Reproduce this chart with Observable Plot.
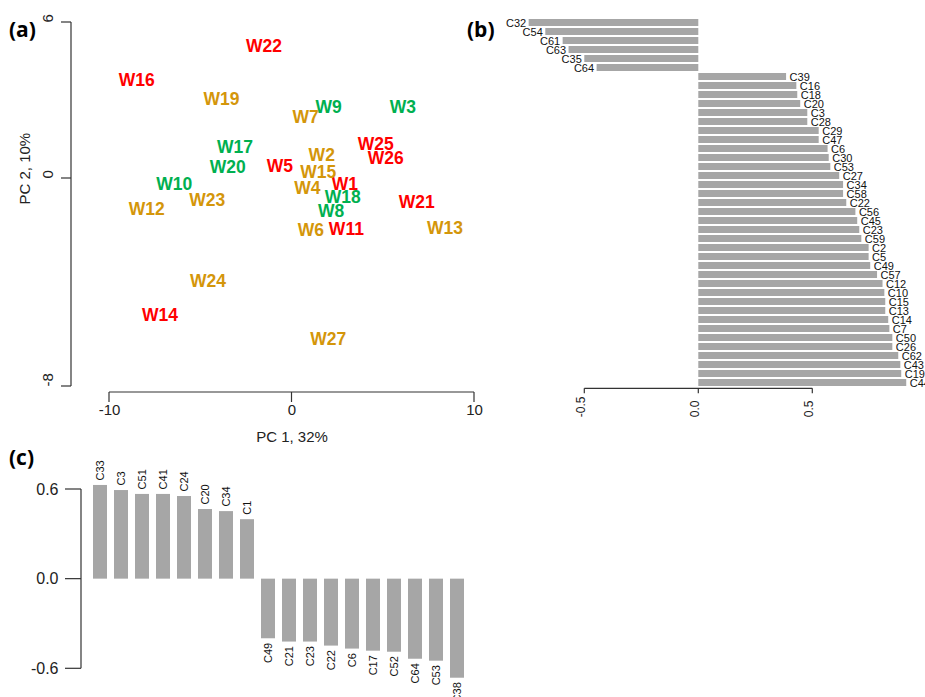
<!DOCTYPE html>
<html><head><meta charset="utf-8">
<script src="https://cdn.jsdelivr.net/npm/d3@7"></script>
<script src="https://cdn.jsdelivr.net/npm/@observablehq/plot@0.6"></script>
<style>
html,body{margin:0;padding:0;background:#fff;overflow:hidden}
#wrap{position:relative;width:925px;height:697px;overflow:hidden;font-family:"Liberation Sans",Arial,sans-serif}
#wrap svg{position:absolute;max-width:none;background:transparent;overflow:visible}
.tag{position:absolute;font-family:"Open Sans",sans-serif;font-weight:700;font-size:21px;line-height:1;color:#000}
</style></head><body>
<div id="wrap">
  <div class="tag" style="left:9px;top:19px">(a)</div>
  <div class="tag" style="left:467px;top:19px">(b)</div>
  <div class="tag" style="left:9px;top:447px">(c)</div>
</div>
<script>
// ---------- Panel (a): PCA scores ----------
const sampleNames = ["W1","W2","W3","W4","W5","W6","W7","W8","W9","W10","W11","W12","W13","W14","W15","W16","W17","W18","W19","W20","W21","W22","W23","W24","W25","W26","W27"];
const pc1 = [2.9,1.63,6.08,0.84,-0.66,1.04,0.74,2.14,2.01,-6.45,2.98,-7.96,8.38,-7.23,1.44,-8.51,-3.12,2.78,-3.86,-3.52,6.83,-1.53,-4.64,-4.6,4.59,5.13,1.99];
const pc2 = [-0.23,0.88,2.73,-0.37,0.47,-2.0,2.36,-1.26,2.74,-0.24,-1.97,-1.17,-1.91,-5.27,0.22,3.77,1.2,-0.72,3.04,0.41,-0.91,5.08,-0.85,-3.95,1.33,0.76,-6.17];
const sampleGroup = ["r","g","n","g","r","g","g","n","n","n","r","g","g","r","g","r","n","n","g","n","r","r","g","g","r","r","g"];
const groupKeys = ["r","n","g"];
const groupColors = ["#ff0000","#00b050","#d4960a"];
const xTicksA = [-10,0,10];
const yTicksA = [6,0,-8];
const xTitleA = "PC 1, 32%";
const yTitleA = "PC 2, 10%";

// ---------- Panel (b): loadings, horizontal ----------
const bNames = ["C32","C54","C61","C63","C35","C64","C39","C16","C18","C20","C3","C28","C29","C47","C6","C30","C53","C27","C34","C58","C22","C56","C45","C23","C59","C2","C5","C49","C57","C12","C10","C15","C13","C14","C7","C50","C26","C62","C43","C19","C44"];
const bValues = [-0.744,-0.671,-0.595,-0.569,-0.5,-0.446,0.385,0.43,0.434,0.447,0.478,0.478,0.528,0.528,0.567,0.572,0.579,0.618,0.635,0.635,0.649,0.689,0.697,0.706,0.715,0.747,0.747,0.754,0.784,0.808,0.816,0.82,0.82,0.833,0.838,0.851,0.851,0.877,0.886,0.89,0.912];
const bTicks = [-0.5,0,0.5];

// ---------- Panel (c): loadings, vertical ----------
const cNames = ["C33","C3","C51","C41","C24","C20","C34","C1","C49","C21","C23","C22","C6","C17","C52","C64","C53","C38"];
const cValues = [0.627,0.593,0.567,0.567,0.553,0.466,0.452,0.398,-0.399,-0.421,-0.421,-0.448,-0.468,-0.482,-0.489,-0.536,-0.549,-0.663];
const cTicks = [0.6,0,-0.6];

const BAR = "#a6a6a6";
const AXIS = "#333";
const FONT = "'Liberation Sans', Arial, sans-serif";

// R-style axis: line spanning first..last tick, outward ticks, drawn with Plot's scales
function rAxis(dim, ticks, len) {
  return (index, scales, values, dims) => {
    const s = scales[dim];
    const g = d3.create("svg:g").attr("stroke", AXIS).attr("fill", "none").attr("stroke-width", 1.2);
    const p = ticks.map(t => s(t));
    if (dim === "x") {
      const y0 = dims.height - dims.marginBottom;
      g.append("line").attr("x1", d3.min(p)).attr("x2", d3.max(p)).attr("y1", y0).attr("y2", y0);
      for (const x of p) g.append("line").attr("x1", x).attr("x2", x).attr("y1", y0).attr("y2", y0 + len);
    } else {
      const x0 = dims.marginLeft;
      g.append("line").attr("y1", d3.min(p)).attr("y2", d3.max(p)).attr("x1", x0).attr("x2", x0);
      for (const y of p) g.append("line").attr("y1", y).attr("y2", y).attr("x1", x0).attr("x2", x0 - len);
    }
    return g.node();
  };
}
const fmt1 = d => d.toFixed(1);
const wrap = document.getElementById("wrap");
function place(svg, left, top) { svg.style.left = left + "px"; svg.style.top = top + "px"; wrap.appendChild(svg); }

// Panel (a)
const samples = sampleNames.map((n, i) => ({name: n, x: pc1[i], y: pc2[i], group: sampleGroup[i]}));
const plotA = Plot.plot({
  width: 480, height: 460,
  marginLeft: 71, marginBottom: 68, marginTop: 0, marginRight: 0,
  x: {domain: d3.extent(xTicksA), range: [109, 474], axis: null},
  y: {domain: d3.extent(yTicksA), range: [386, 22], axis: null},
  color: {domain: groupKeys, range: groupColors},
  style: {fontFamily: FONT, background: "transparent", overflow: "visible"},
  marks: [
    rAxis("x", xTicksA, 10),
    rAxis("y", yTicksA, 10),
    Plot.text(xTicksA, {x: d => d, frameAnchor: "bottom", dy: 22, text: d => String(d), fontSize: 15, fill: "#222"}),
    Plot.text(yTicksA, {y: d => d, frameAnchor: "left", dx: -23, rotate: -90, text: d => String(d), fontSize: 15, fill: "#222"}),
    Plot.text([xTitleA], {x: () => d3.mean(d3.extent(xTicksA)), frameAnchor: "bottom", dy: 49, text: d => d, fontSize: 15, fill: "#222"}),
    Plot.text([yTitleA], {y: () => d3.mean(d3.extent(yTicksA)), frameAnchor: "left", dx: -46, rotate: -90, text: d => d, fontSize: 15, fill: "#222"}),
    Plot.text(samples, {x: "x", y: "y", text: "name", fill: "group", fontWeight: "bold", fontSize: 17.5})
  ]
});
place(plotA, 0, 0);

// Panel (b)
const bData = bNames.map((n, i) => ({name: n, v: bValues[i]}));
const plotB = Plot.plot({
  width: 445, height: 430,
  marginLeft: 0, marginRight: 0, marginTop: 0, marginBottom: 41.7,
  x: {domain: d3.extent(bTicks), range: [104.3, 332.3], axis: null},
  y: {domain: bNames, range: [17.1, 387.7], paddingInner: 0.26, paddingOuter: 0.13, axis: null},
  style: {fontFamily: FONT, background: "transparent", overflow: "visible"},
  marks: [
    Plot.barX(bData, {x: "v", y: "name", fill: BAR}),
    Plot.text(bData.filter(d => d.v < 0), {x: "v", y: "name", text: "name", textAnchor: "end", dx: -3, fontSize: 11, fill: "#111"}),
    Plot.text(bData.filter(d => d.v >= 0), {x: "v", y: "name", text: "name", textAnchor: "start", dx: 3, fontSize: 11, fill: "#111"}),
    rAxis("x", bTicks, 5),
    Plot.text(bTicks, {x: d => d, frameAnchor: "bottom", dy: 28.4, rotate: -90, textAnchor: "start", text: fmt1, fontSize: 12, fill: "#222"})
  ]
});
place(plotB, 480, 0);

// Panel (c)
const cData = cNames.map((n, i) => ({name: n, v: cValues[i]}));
const plotC = Plot.plot({
  width: 480, height: 237,
  marginLeft: 81, marginRight: 0, marginTop: 0, marginBottom: 0,
  x: {domain: cNames, range: [88.3, 469.3], paddingInner: 0.35, paddingOuter: 0.175, axis: null},
  y: {domain: d3.extent(cTicks), range: [208.3, 29], axis: null},
  style: {fontFamily: FONT, background: "transparent", overflow: "visible"},
  marks: [
    Plot.barY(cData, {x: "name", y: "v", fill: BAR}),
    Plot.text(cData.filter(d => d.v >= 0), {x: "name", y: "v", text: "name", rotate: -90, textAnchor: "start", dy: -5, fontSize: 11, fill: "#111"}),
    Plot.text(cData.filter(d => d.v < 0), {x: "name", y: "v", text: "name", rotate: -90, textAnchor: "end", dy: 4, fontSize: 11, fill: "#111"}),
    rAxis("y", cTicks, 16),
    Plot.text(cTicks, {y: d => d, frameAnchor: "left", dx: -23, textAnchor: "end", text: fmt1, fontSize: 16, fill: "#222"})
  ]
});
place(plotC, 0, 460);
</script>
</body></html>
